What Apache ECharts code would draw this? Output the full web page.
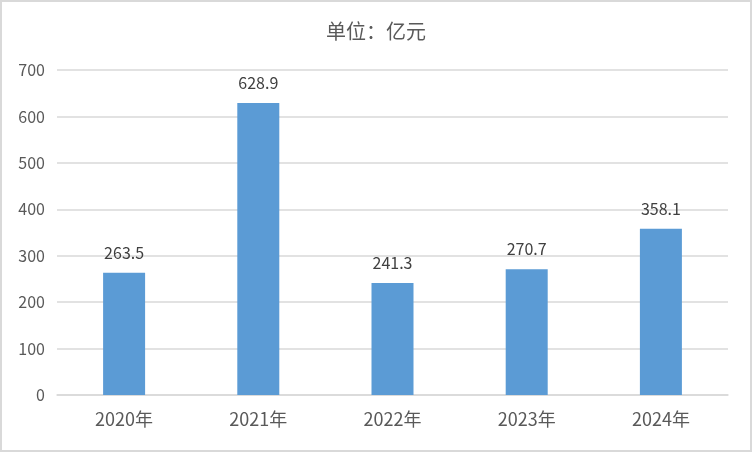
<!DOCTYPE html>
<html><head><meta charset="utf-8">
<script src="https://cdn.jsdelivr.net/npm/echarts@6/dist/echarts.min.js"></script>
<style>html,body{margin:0;padding:0;background:#fff;}#c{width:752px;height:452px;box-sizing:border-box;border:2px solid #d9d9d9;}</style>
</head><body><div id="c"></div>
<script>
const categories = ['2020年','2021年','2022年','2023年','2024年'];
const values = [263.5, 628.9, 241.3, 270.7, 358.1];
const yTicks = [0,100,200,300,400,500,600,700];
const chart = echarts.init(document.getElementById('c'), null, {renderer:'canvas'});
const font = '"Noto Sans CJK SC","Noto Sans",sans-serif';
chart.setOption({
  animation:false,
  title:{text:'单位：亿元',left:'center',top:14,textStyle:{fontSize:20,fontWeight:'normal',color:'#595959',fontFamily:font}},
  grid:{left:55,right:22,top:68,bottom:55,containLabel:false},
  xAxis:{type:'category',data:categories,axisLine:{lineStyle:{color:'#d9d9d9',width:1.5}},axisTick:{show:false},
    axisLabel:{color:'#595959',fontSize:18,margin:15,fontFamily:font}},
  yAxis:{type:'value',min:yTicks[0],max:yTicks[yTicks.length-1],interval:100,
    axisLine:{show:false},axisTick:{show:false},
    splitLine:{lineStyle:{color:'#d9d9d9',width:1.5}},
    axisLabel:{color:'#595959',fontSize:16,margin:12,fontFamily:font}},
  series:[{type:'bar',data:values,barWidth:42,itemStyle:{color:'#5b9bd5'},
    label:{show:true,position:'top',distance:12,color:'#404040',fontSize:16,fontFamily:font,formatter:p=>p.value.toFixed(1)}}]
});
</script></body></html>
